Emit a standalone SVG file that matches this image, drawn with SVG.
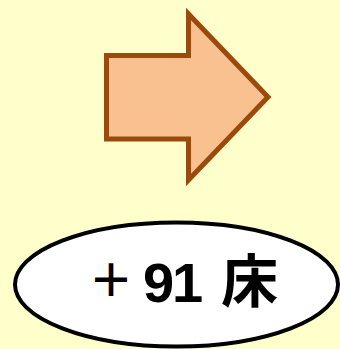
<svg xmlns="http://www.w3.org/2000/svg" width="340" height="349" viewBox="0 0 340 349">
<style>
.arrow{fill:#F9C190;stroke:#9A4A0C;stroke-width:5;stroke-linejoin:miter}
.oval{fill:#FFFFFF;stroke:#000000;stroke-width:4}
.lbl{font-family:"Liberation Sans","Noto Sans CJK JP",sans-serif;font-weight:bold;font-size:56px;fill:#000000}
.plus{font-size:45px}
.kanji{font-size:57px}
</style>
<rect width="340" height="349" fill="#FFFFCC"/>
<g id="arrow">
<polygon class="arrow" points="106.5,55.5 188.5,55.5 188.5,14 268,97 188.5,180 188.5,139 106.5,139"/>
</g>
<g id="connectors"></g>
<g id="beds">
<ellipse class="oval" cx="176.5" cy="284.5" rx="161.5" ry="62"/>
<text class="lbl" y="302"><tspan class="plus" x="88.5" y="297">＋</tspan><tspan x="143" y="302">9</tspan><tspan x="172">1</tspan><tspan class="kanji" x="221">床</tspan></text>
</g>
</svg>
